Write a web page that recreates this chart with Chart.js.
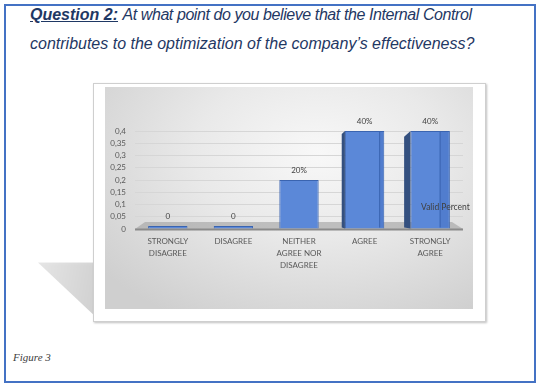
<!DOCTYPE html>
<html>
<head>
<meta charset="utf-8">
<script src="https://cdn.jsdelivr.net/npm/chart.js@4"></script>
<style>
  html, body { margin: 0; padding: 0; background: #ffffff; }
  body { width: 541px; height: 387px; position: relative; overflow: hidden; }
  #frame { position: absolute; left: 4px; top: 4px; width: 532px; height: 379px; box-sizing: border-box; border: 2px solid #4472C4; }
  #title { position: absolute; left: 30px; top: 0px; font-family: "Liberation Sans", Arial, sans-serif; font-style: italic; font-size: 16px; line-height: 29px; color: #1F3864; white-space: nowrap; }
  #title b { text-decoration: underline; }
  #title .l1 { letter-spacing: -0.42px; }
  #shadow { position: absolute; left: 30px; top: 256px; width: 80px; height: 66px; background: linear-gradient(100deg, #e8e8e8, #cbcbcb); clip-path: polygon(10% 10%, 100% 10%, 100% 92%, 82% 92%); filter: blur(5px); }
  #card { position: absolute; left: 93px; top: 83px; width: 393px; height: 239px; box-sizing: border-box; background: #ffffff; border: 1px solid #cfcfcf; box-shadow: 1px 1px 2px rgba(0,0,0,0.25); }
  #plotbg { position: absolute; left: 105px; top: 87px; width: 368px; height: 222px; background: radial-gradient(ellipse 75% 85% at 58% 30%, #f8f8f8 0%, #e9e9e9 45%, #cfcfcf 100%); }
  #chartwrap { position: absolute; left: 105px; top: 87px; width: 368px; height: 222px; }
  #caption { position: absolute; left: 13px; top: 351px; font-family: "Liberation Serif", "Times New Roman", serif; font-style: italic; font-size: 11px; color: #404040; }
</style>
</head>
<body>
<div id="frame"></div>
<div id="title"><b>Question 2:</b> <span class="l1">At what point do you believe that the Internal Control</span><br>contributes to the optimization of the company’s effectiveness?</div>
<div id="shadow"></div>
<div id="card"></div>
<div id="plotbg"></div>
<div id="chartwrap"><canvas id="c" width="368" height="222"></canvas></div>
<div id="caption">Figure 3</div>
<script>
// ---- data ----
const categories = [
  ["STRONGLY", "DISAGREE"],
  ["DISAGREE"],
  ["NEITHER", "AGREE NOR", "DISAGREE"],
  ["AGREE"],
  ["STRONGLY", "AGREE"]
];
const seriesName = "Valid Percent";
const validPercent = [0, 0, 0.2, 0.4, 0.4];
const yTicks = [0, 0.05, 0.1, 0.15, 0.2, 0.25, 0.3, 0.35, 0.4];

const FONT = "Lato, 'Open Sans', sans-serif";

const floorPlugin = {
  id: 'floor',
  beforeDatasetsDraw(chart) {
    const { ctx, chartArea } = chart;
    const y0 = chart.scales.y.getPixelForValue(0);
    ctx.save();
    ctx.fillStyle = 'rgba(160,160,160,0.6)';
    ctx.beginPath();
    ctx.moveTo(chartArea.left + 10, y0 - 7);
    ctx.lineTo(chartArea.right - 11, y0 - 7);
    ctx.lineTo(chartArea.right, y0);
    ctx.lineTo(chartArea.left, y0);
    ctx.closePath();
    ctx.fill();
    ctx.strokeStyle = '#8a8a8a';
    ctx.lineWidth = 2;
    ctx.beginPath();
    ctx.moveTo(chartArea.left, y0 + 0.5);
    ctx.lineTo(chartArea.right, y0 + 0.5);
    ctx.stroke();
    ctx.restore();
  }
};

const sidePlugin = {
  id: 'sides',
  afterDatasetsDraw(chart) {
    const { ctx } = chart;
    const meta = chart.getDatasetMeta(0);
    const mid = (meta.data.length - 1) / 2;
    ctx.save();
    meta.data.forEach((bar, i) => {
      const v = chart.data.datasets[0].data[i];
      const off = i - mid;
      if (v <= 0 || off <= 0) return;
      const d = off * 3.2;
      const left = bar.x - bar.width / 2;
      const right = bar.x + bar.width / 2;
      ctx.fillStyle = '#34507f';
      ctx.beginPath();
      ctx.moveTo(left, bar.y);
      ctx.lineTo(left - d, bar.y + d * 0.9);
      ctx.lineTo(left - d, bar.base - 1);
      ctx.lineTo(left, bar.base);
      ctx.closePath();
      ctx.fill();
      ctx.fillStyle = 'rgba(40,80,160,0.18)';
      ctx.fillRect(right - d * 1.6, bar.y + 1, d * 1.6 - 1, bar.base - bar.y - 2);
      ctx.strokeStyle = '#3A64B0';
      ctx.lineWidth = 1;
      ctx.beginPath();
      ctx.moveTo(right - d * 1.6 + 0.5, bar.y + 1);
      ctx.lineTo(right - d * 1.6 + 0.5, bar.base - 1);
      ctx.stroke();
    });
    ctx.restore();
  }
};

const labelPlugin = {
  id: 'valueLabels',
  afterDraw(chart) {
    const { ctx, chartArea } = chart;
    const meta = chart.getDatasetMeta(0);
    ctx.save();
    ctx.font = "8px " + FONT;
    ctx.fillStyle = '#404040';
    ctx.textAlign = 'center';
    ctx.textBaseline = 'bottom';
    meta.data.forEach((bar, i) => {
      const v = chart.data.datasets[0].data[i];
      const txt = v === 0 ? '0' : Math.round(v * 100) + '%';
      ctx.fillText(txt, bar.x, Math.min(bar.y, bar.base) - 6);
    });
    ctx.textAlign = 'left';
    ctx.textBaseline = 'middle';
    ctx.font = "8.5px " + FONT;
    ctx.fillText(chart.data.datasets[0].label, chartArea.right - 42, chartArea.bottom - 22);
    ctx.restore();
  }
};

new Chart(document.getElementById('c'), {
  type: 'bar',
  data: {
    labels: categories,
    datasets: [{
      label: seriesName,
      data: validPercent,
      backgroundColor: '#5B88D8',
      borderColor: '#3A64B0',
      borderWidth: 1,
      minBarLength: 3,
      categoryPercentage: 1,
      barPercentage: 0.6
    }]
  },
  options: {
    responsive: false,
    animation: false,
    devicePixelRatio: 1,
    layout: { padding: { left: 0, right: 10, top: 44, bottom: 30 } },
    plugins: { legend: { display: false }, tooltip: { enabled: false } },
    scales: {
      y: {
        min: 0, max: 0.4,
        afterBuildTicks(scale) { scale.ticks = yTicks.map(v => ({ value: v })); },
        afterFit(scale) { scale.width = 30; },
        ticks: {
          autoSkip: false,
          padding: 9,
          color: '#595959',
          font: { family: FONT, size: 8 },
          callback: v => String(Math.round(v * 100) / 100).replace('.', ',')
        },
        grid: { color: '#d6d6d6', drawTicks: false },
        border: { display: false }
      },
      x: {
        afterFit(scale) { scale.height = 50; },
        ticks: {
          padding: 7,
          color: '#595959',
          autoSkip: false,
          maxRotation: 0,
          font: { family: FONT, size: 8, lineHeight: 1.45 }
        },
        grid: { display: false, drawTicks: false },
        border: { display: false }
      }
    }
  },
  plugins: [floorPlugin, sidePlugin, labelPlugin]
});
</script>
</body>
</html>
